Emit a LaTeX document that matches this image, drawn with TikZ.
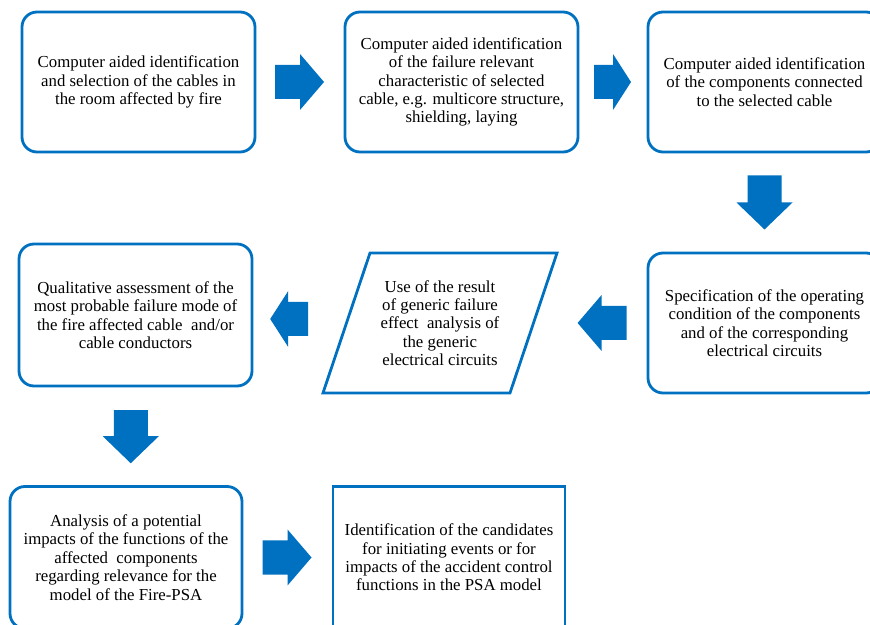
\documentclass[tikz,border=0pt]{standalone}
\usepackage{fontspec}
\setmainfont{Liberation Serif}
\usetikzlibrary{positioning, shapes.geometric, calc}
\definecolor{flowblue}{RGB}{0,112,192}
% block arrow: junction point, direction, shaft length, head length
\newcommand{\blockarr}[4]{%
  \fill[flowblue, shift={#1}, rotate=#2] (-#3,-17) -- (0,-17) -- (0,-28) -- (#4,0)
    -- (0,28) -- (0,17) -- (-#3,17) -- cycle;}

\begin{document}
\begin{tikzpicture}[
  x=1pt, y=1pt,
  font=\fontsize{16.8}{18.4}\selectfont,
  stepbox/.style={rectangle, rounded corners=15pt, draw=flowblue, line width=2.8pt,
                  align=center, minimum width=233pt, minimum height=140pt, inner sep=2pt},
  endbox/.style={stepbox, sharp corners},
  usebox/.style={rectangle, align=center, minimum width=234pt, minimum height=140pt,
                 inner sep=0pt, outer sep=0pt},
  slant/.style={draw=flowblue, line width=2.8pt, line join=miter}
]
\useasboundingbox (0,0) rectangle (870,624);
\clip (0,0) rectangle (870,624);
% top row
\node[stepbox] (sel)  at (138.5,542) {Computer aided identification\\and selection of the cables in\\the room affected by fire};
\node[stepbox] (char) at (461.5,542) {Computer aided identification\\of the failure relevant\\characteristic of selected\\cable, e.g. multicore structure,\\shielding, laying};
\node[stepbox] (comp) at (764.5,542) {Computer aided identification\\of the components connected\\to the selected cable};
% middle row
\node[stepbox] (spec) at (764.5,301) {Specification of the operating\\condition of the components\\and of the corresponding\\electrical circuits};
\node[usebox]  (use)  at (440,301)   {Use of the result\\of generic failure\\effect~ analysis of\\the generic\\electrical circuits};
\draw[slant] (use.south west) -- ($(use.south east)+(-47,0)$) -- (use.north east)
  -- ($(use.north west)+(47,0)$) -- cycle;
\node[stepbox, minimum height=142pt] (qual) at (135.5,309) {Qualitative assessment of the\\most probable failure mode of\\the fire affected cable~ and/or\\cable conductors};
% bottom row
\node[stepbox, minimum width=232pt, minimum height=142pt] (ana) at (126,66.5) {Analysis of a potential\\impacts of the functions of the\\affected~ components\\regarding relevance for the\\model of the Fire-PSA};
\node[endbox, minimum width=232pt, minimum height=142pt]  (cand) at (449,66.5) {Identification of the candidates\\for initiating events or for\\impacts of the accident control\\functions in the PSA model};
% block arrows
\blockarr{($(sel.east)!0.5!(char.west)$)}{0}{25}{24}
\blockarr{($(char.east)!0.5!(comp.west)$)}{0}{19}{18}
\blockarr{($(comp.south)!0.5!(spec.north)$)}{-90}{27}{27}
\blockarr{($(spec.west)+(-45,0)$)}{180}{25}{24}
\blockarr{($(qual.east)!0.5!(use.west)$)}{180}{20}{18}
\blockarr{($(qual.south)!0.5!(ana.north)$)}{-90}{26}{27}
\blockarr{($(ana.east)!0.5!(cand.west)$)}{0}{25}{24}
\end{tikzpicture}
\end{document}
